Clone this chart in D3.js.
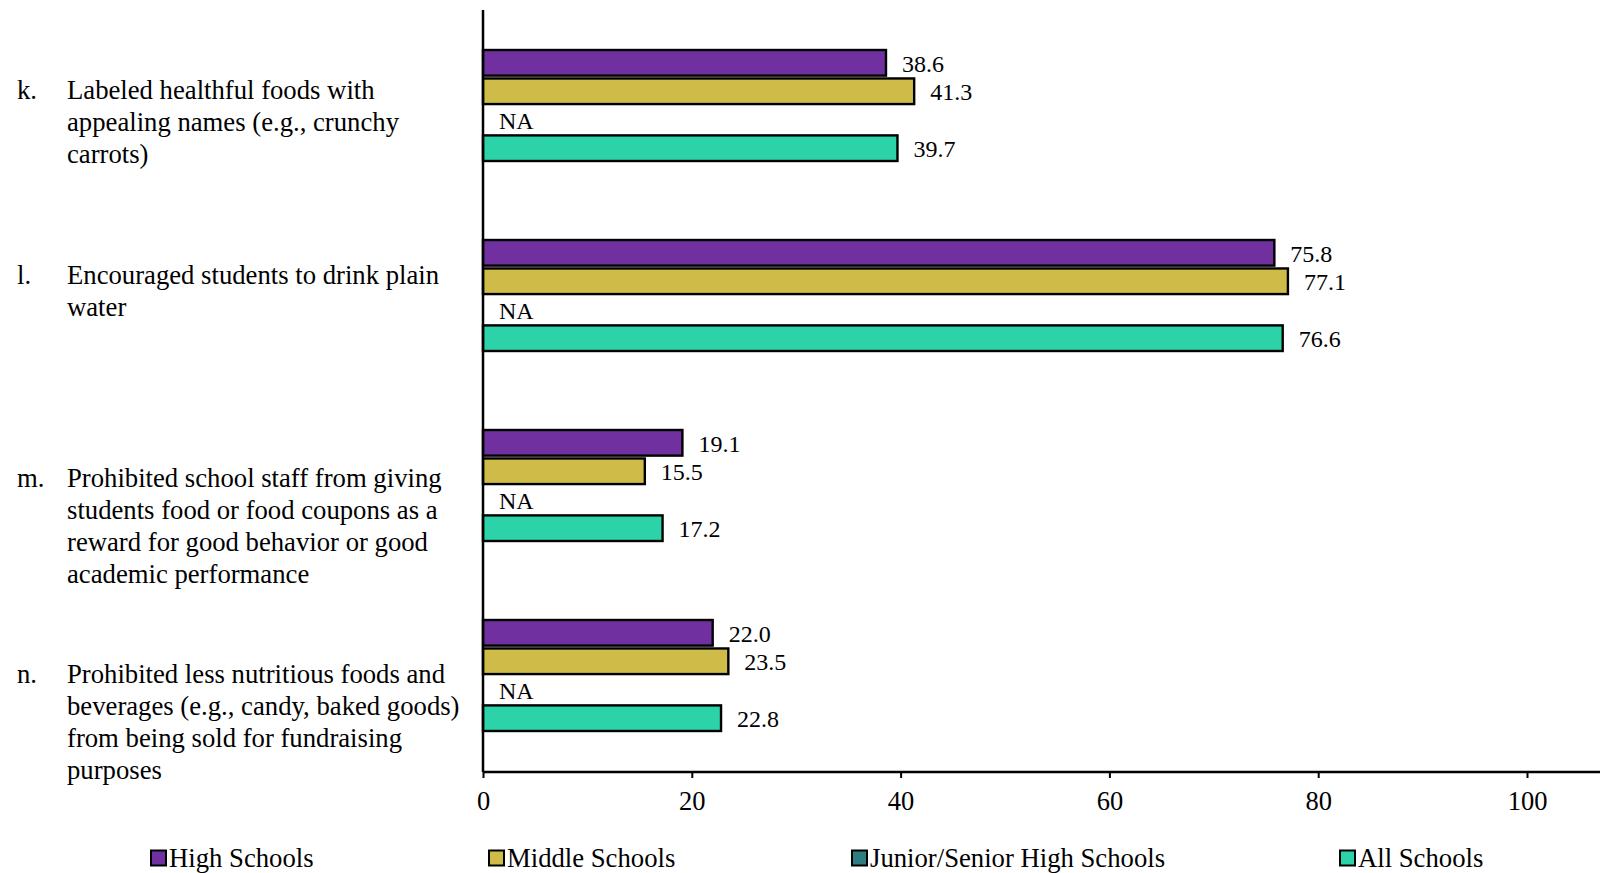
<!DOCTYPE html>
<html>
<head>
<meta charset="utf-8">
<script src="https://cdn.jsdelivr.net/npm/d3@7"></script>
<style>
  html, body { margin: 0; padding: 0; background: #fff; }
  svg { display: block; font-family: "Liberation Serif", "Times New Roman", serif; }
</style>
</head>
<body>
<svg id="chart" width="1600" height="873"></svg>
<script>
// ---------- data ----------
const categoryLetters = ["k.", "l.", "m.", "n."];
const categoryLines = [
  ["Labeled healthful foods with", "appealing names (e.g., crunchy", "carrots)"],
  ["Encouraged students to drink plain", "water"],
  ["Prohibited school staff from giving", "students food or food coupons as a", "reward for good behavior or good", "academic performance"],
  ["Prohibited less nutritious foods and", "beverages (e.g., candy, baked goods)", "from being sold for fundraising", "purposes"]
];
const seriesNames = ["High Schools", "Middle Schools", "Junior/Senior High Schools", "All Schools"];
const highSchools   = [38.6, 75.8, 19.1, 22.0];
const middleSchools = [41.3, 77.1, 15.5, 23.5];
const juniorSenior  = [null, null, null, null];   // NA
const allSchools    = [39.7, 76.6, 17.2, 22.8];
const xTicks = [0, 20, 40, 60, 80, 100];

// ---------- layout / style ----------
const colors = ["#7030A0", "#CFBB47", "#2E7D80", "#2DD3A8"];
const labelShift = [-6.5, -11.5, 1, 7]; // first-line baseline offset from group centre
const lineGap = 32;
const labelFont = 26.7, valueFont = 24, tickFont = 26.5, legendFont = 26.7;

const seriesValues = [highSchools, middleSchools, juniorSenior, allSchools];
const rows = categoryLetters.map((c, i) => ({
  key: c,
  lines: categoryLines[i],
  values: seriesValues.map((s, j) => ({ series: seriesNames[j], idx: j, v: s[i] }))
}));

const svg = d3.select("#chart");
const x = d3.scaleLinear().domain([0, 100]).range([483, 1527]);
const y0 = d3.scaleBand().domain(categoryLetters).range([10, 770]).padding(0);
const y1 = d3.scaleBand().domain(seriesNames).range([40, 151]).paddingInner(0.1);

// category labels
const lab = svg.append("g");
rows.forEach((r, i) => {
  const cy = y0(r.key) + (y1.range()[0] + y1.range()[1]) / 2;
  const base = cy + labelShift[i];
  lab.append("text").attr("x", 17).attr("y", base).attr("font-size", labelFont).attr("fill", "#000").text(r.key);
  r.lines.forEach((ln, k) => {
    lab.append("text").attr("x", 67).attr("y", base + k * lineGap)
      .attr("font-size", labelFont).attr("fill", "#000").text(ln);
  });
});

// bars
const groups = svg.append("g").selectAll("g").data(rows).join("g")
  .attr("transform", d => `translate(0,${y0(d.key)})`);

groups.selectAll("rect").data(d => d.values.filter(v => v.v != null)).join("rect")
  .attr("x", x(0))
  .attr("y", d => y1(d.series))
  .attr("width", d => x(d.v) - x(0))
  .attr("height", y1.bandwidth())
  .attr("fill", d => colors[d.idx])
  .attr("stroke", "#000")
  .attr("stroke-width", 2.4);

groups.selectAll("text.val").data(d => d.values).join("text")
  .attr("class", "val")
  .attr("x", d => d.v == null ? x(0) + 16 : x(d.v) + 16)
  .attr("y", d => y1(d.series) + y1.bandwidth() / 2 + 0.5)
  .attr("dy", "0.35em")
  .attr("font-size", valueFont)
  .attr("fill", "#000")
  .text(d => d.v == null ? "NA" : d.v.toFixed(1));

// x axis
const axisY = 772;
const xAxis = d3.axisBottom(x).tickValues(xTicks).tickSize(6).tickPadding(13).tickFormat(d3.format("d"));
const gx = svg.append("g").attr("transform", `translate(0,${axisY})`).call(xAxis);
gx.select(".domain").remove();
gx.selectAll(".tick line").attr("stroke", "#000").attr("stroke-width", 2);
gx.selectAll(".tick text").attr("font-size", tickFont).attr("fill", "#000")
  .attr("font-family", "'Liberation Serif', 'Times New Roman', serif");
svg.append("line").attr("x1", x(0)).attr("x2", 1600).attr("y1", axisY).attr("y2", axisY)
  .attr("stroke", "#000").attr("stroke-width", 2.5);

// y axis line
svg.append("line").attr("x1", x(0)).attr("x2", x(0)).attr("y1", 10).attr("y2", axisY)
  .attr("stroke", "#000").attr("stroke-width", 2.5);

// legend
const legendX = [150, 488, 851, 1339];
const leg = svg.append("g").selectAll("g").data(seriesNames).join("g")
  .attr("transform", (d, i) => `translate(${legendX[i]},858)`);
leg.append("rect").attr("x", 1).attr("y", -7.5).attr("width", 15).attr("height", 15)
  .attr("fill", (d, i) => colors[i]).attr("stroke", "#000").attr("stroke-width", 2);
leg.append("text").attr("x", 19).attr("y", 0).attr("dy", "0.35em")
  .attr("font-size", legendFont).attr("fill", "#000").text(d => d);
</script>
</body>
</html>
